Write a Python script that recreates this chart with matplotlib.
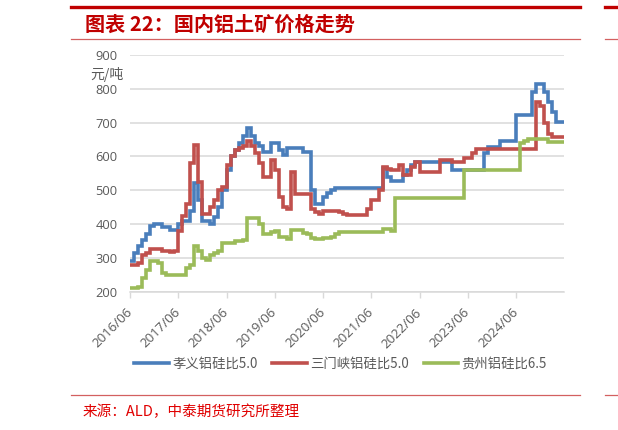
import matplotlib
matplotlib.use("Agg")
import matplotlib.pyplot as plt
from matplotlib.lines import Line2D

plt.rcParams['font.family'] = ['Noto Sans CJK SC', 'DejaVu Sans']

# ---------------- data (monthly, 2016/06 .. 2025/06) ----------------
tick_labels = ['2016/06', '2017/06', '2018/06', '2019/06', '2020/06',
               '2021/06', '2022/06', '2023/06', '2024/06']
tick_months = [0, 12, 24, 36, 48, 60, 72, 84, 96]

series_names = ['孝义铝硅比5.0', '三门峡铝硅比5.0', '贵州铝硅比6.5']

xiaoyi = [290, 315, 335, 352, 370, 395, 400, 400, 390, 390, 382, 382,
          400, 410, 410, 440, 520, 470, 410, 410, 400, 420, 450, 500,
          560, 600, 620, 640, 660, 683, 660, 640, 630, 612, 612, 640,
          640, 620, 605, 625, 625, 625, 625, 612, 612, 500, 460, 460,
          480, 492, 500, 508, 508, 508, 508, 508, 508, 508, 508, 508,
          508, 508, 508, 565, 540, 528, 528, 528, 545, 560, 575, 583,
          583, 583, 583, 583, 583, 583, 583, 583, 560, 560, 560, 560,
          560, 560, 560, 560, 609, 628, 628, 628, 647, 647, 647, 647,
          722, 722, 722, 722, 790, 815, 815, 790, 761, 732, 702, 702,
          702]

sanmenxia = [280, 278, 285, 310, 315, 325, 325, 325, 320, 320, 318, 320,
             380, 425, 460, 580, 635, 525, 430, 430, 450, 470, 500, 510,
             575, 600, 620, 625, 630, 645, 630, 610, 580, 540, 540, 590,
             560, 480, 450, 445, 555, 490, 490, 490, 490, 445, 435, 430,
             440, 440, 440, 440, 436, 430, 426, 426, 426, 426, 426, 446,
             471, 471, 500, 569, 564, 559, 559, 574, 544, 544, 569, 583,
             554, 554, 554, 554, 554, 590, 590, 590, 585, 585, 585, 596,
             596, 609, 621, 621, 621, 621, 621, 621, 621, 621, 621, 621,
             621, 621, 621, 621, 621, 761, 750, 700, 665, 657, 657, 657,
             657]

guizhou = [210, 210, 215, 240, 265, 290, 290, 285, 255, 250, 250, 250,
           250, 250, 270, 280, 335, 320, 300, 295, 310, 315, 320, 345,
           345, 345, 350, 350, 352, 417, 417, 417, 400, 372, 372, 378,
           380, 362, 362, 357, 382, 382, 382, 375, 372, 360, 355, 355,
           360, 360, 362, 370, 378, 378, 378, 378, 378, 378, 378, 378,
           378, 378, 378, 385, 385, 380, 476, 476, 476, 476, 476, 476,
           476, 476, 476, 476, 476, 476, 476, 476, 476, 476, 476, 560,
           560, 560, 560, 560, 560, 560, 560, 560, 560, 560, 560, 560,
           560, 640, 645, 652, 652, 652, 652, 652, 642, 642, 642, 642,
           642]

months = list(range(len(xiaoyi)))

colors = ['#4A7EBB', '#C0504D', '#9BBB59']
red = '#C00000'
gray_txt = '#595959'

# ---------------- figure ----------------
W, H = 618, 430
fig = plt.figure(figsize=(W / 100, H / 100), dpi=100)

def fx(px):
    return px / W

def fy(py):
    return 1 - py / H

ax = fig.add_axes([fx(130), fy(291.7), fx(564.25) - fx(130), fy(55) - fy(291.7)])

for vals, c, name in zip([xiaoyi, sanmenxia, guizhou], colors, series_names):
    ax.plot(months, vals, color=c, lw=2.6, drawstyle='steps-post',
            solid_joinstyle='miter', label=name, zorder=3)

ax.set_xlim(0, 108)
ax.set_ylim(200, 900)
ax.set_yticks([200, 300, 400, 500, 600, 700, 800, 900])
ax.grid(axis='y', color='#D9D9D9', lw=1.1, zorder=0)
ax.set_axisbelow(True)
for s in ['top', 'right', 'left']:
    ax.spines[s].set_visible(False)
ax.spines['bottom'].set_color('#D9D9D9')
ax.spines['bottom'].set_linewidth(1.1)

ax.set_xticks(tick_months)
ax.set_xticklabels(tick_labels, rotation=45, ha='right', va='center',
                   rotation_mode='anchor', color=gray_txt,
                   fontsize=9.5, family=['Open Sans', 'DejaVu Sans'])
ax.tick_params(axis='x', direction='out', length=4.5, width=1.0,
               color='#D9D9D9', pad=9)
ax.tick_params(axis='y', length=0, pad=9)
for lab in ax.get_yticklabels():
    lab.set_color(gray_txt)
    lab.set_fontsize(9.3)
    lab.set_family(['Open Sans', 'DejaVu Sans'])

fig.text(fx(107), fy(75), '元/吨', ha='center', va='center',
         color=gray_txt, fontsize=10)

# legend
handles = [Line2D([0], [0], color=c, lw=2.6) for c in colors]
fig.legend(handles, series_names, loc='center', ncol=3,
           bbox_to_anchor=(fx(340.5), fy(363.5)), frameon=False,
           fontsize=9.6, labelcolor=gray_txt, handlelength=2.6,
           handletextpad=0.25, columnspacing=1.1)

# title area
fig.add_artist(Line2D([fx(71), fx(580)], [fy(6.5), fy(6.5)], color=red, lw=2.4))
fig.add_artist(Line2D([fx(605), fx(618)], [fy(6.5), fy(6.5)], color=red, lw=2.4))
fig.add_artist(Line2D([fx(71), fx(580)], [fy(39.3), fy(39.3)], color='#D36060', lw=0.9))
fig.add_artist(Line2D([fx(605), fx(618)], [fy(39.3), fy(39.3)], color='#D36060', lw=0.9))
fig.text(fx(85), fy(24), '图表 22：国内铝土矿价格走势', ha='left', va='center',
         color=red, fontsize=14.5, fontweight='bold')

# source area
fig.add_artist(Line2D([fx(71), fx(580)], [fy(395), fy(395)], color='#D36060', lw=0.9))
fig.add_artist(Line2D([fx(605), fx(618)], [fy(395), fy(395)], color='#D36060', lw=0.9))
fig.text(fx(83), fy(411.5), '来源：ALD，中泰期货研究所整理', ha='left', va='center',
         color='#E00000', fontsize=10.5)

fig.savefig('out.png', dpi=100)
